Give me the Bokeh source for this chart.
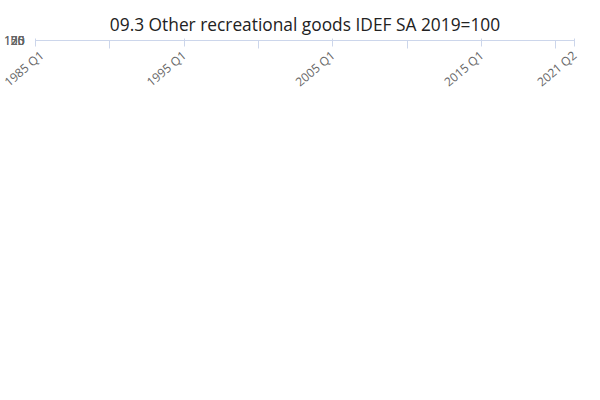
from bokeh.plotting import figure
from bokeh.models import Legend, LegendItem, FixedTicker, Label
from bokeh.embed import file_html
from bokeh.resources import INLINE
import pandas as pd

start = "1997Q1"
values = [
106.0,105.8,106.2,106.5,106.0,105.0,104.5,104.6,104.2,103.8,103.5,103.2,
102.0,101.0,100.5,100.6,100.8,100.7,100.5,100.6,100.4,100.0,99.2,98.8,
97.8,97.5,96.5,95.5,94.8,94.5,94.2,93.7,93.2,92.8,92.3,92.0,
91.8,91.3,91.0,90.6,91.2,90.8,89.8,88.7,90.5,90.3,89.8,91.2,
91.8,91.5,91.8,91.2,92.5,93.3,94.0,94.5,94.8,94.6,95.0,95.5,
96.2,95.8,95.2,95.6,95.4,96.2,95.9,96.3,96.5,96.8,97.0,97.2,
97.5,97.4,97.6,97.3,97.0,96.8,97.0,96.9,96.2,96.8,96.5,96.3,
96.6,96.8,96.6,97.5,98.0,98.5,99.0,99.6,99.8,100.2,100.1,100.3,
100.5,101.0,103.2,101.8,103.0,104.2,105.5]
quarters = pd.period_range(start, periods=len(values), freq="Q")
xs = [(q.year - 1985) * 4 + (q.quarter - 1) for q in quarters]

tick_labels = {0: "1985 Q1", 40: "1995 Q1", 80: "2005 Q1", 120: "2015 Q1", 145: "2021 Q2"}
minor = [20, 60, 100, 140]
name = "09.3 Other recreational goods IDEF SA 2019=100"

p = figure(width=584, height=384, output_backend="svg", toolbar_location=None,
           x_range=(0, 145), y_range=(0, 125), min_border_left=10, min_border_right=10,
           min_border_top=40, min_border_bottom=95)
p.title.text = name
p.title.align = "center"
p.title.text_font = "Open Sans"
p.title.text_font_size = "13pt"
p.title.text_font_style = "normal"
p.title.text_color = "#222222"

lab = Label(x=0, y=384 - 32, x_units="screen", y_units="screen", text="Index, base year = 100",
            text_font="Open Sans", text_font_size="9pt", text_color="#666666")
src = Label(x=0, y=0, x_units="screen", y_units="screen", text="Source:",
            text_font="Open Sans", text_font_size="9pt", text_color="#666666")

r = p.line(xs, values, color="#007ac3", line_width=2)
p.scatter(xs, values, color="#007ac3", size=3)
p.xaxis.ticker = FixedTicker(ticks=list(tick_labels.keys()), minor_ticks=minor)
p.xaxis.major_label_overrides = tick_labels
p.xaxis.major_label_orientation = 0.7
p.yaxis.ticker = FixedTicker(ticks=[0, 25, 50, 75, 100, 125])
for ax in (p.xaxis, p.yaxis):
    ax.major_label_text_font = "Open Sans"
    ax.major_label_text_color = "#666666"
    ax.major_label_text_font_size = "9pt"
p.xaxis.axis_line_color = "#ccd6eb"
p.xaxis.major_tick_line_color = "#ccd6eb"
p.xaxis.minor_tick_line_color = "#ccd6eb"
p.xaxis.minor_tick_in = 0
p.xaxis.minor_tick_out = 8
p.yaxis.axis_line_color = None
p.yaxis.major_tick_line_color = None
p.yaxis.minor_tick_line_color = None
p.xgrid.grid_line_color = None
p.ygrid.grid_line_color = "#e6e6e6"
p.outline_line_color = None

leg = Legend(items=[LegendItem(label=name, renderers=[r])], location=(90, 0),
             orientation="horizontal", label_text_font="Open Sans", label_text_font_size="9pt",
             label_text_font_style="bold", label_text_color="#333333", border_line_color=None,
             background_fill_alpha=0)
p.add_layout(leg, "below")
p.add_layout(lab)
p.add_layout(src)
src.x = 530
src.y = 4

open("out.html", "w").write(file_html(p, INLINE))
